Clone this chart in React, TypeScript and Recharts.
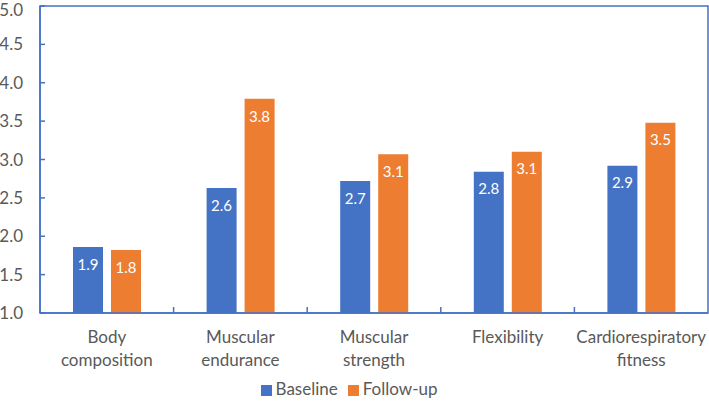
import { BarChart, Bar, XAxis, YAxis, Legend, LabelList, ReferenceArea } from "recharts";

const categories = [
  "Body composition",
  "Muscular endurance",
  "Muscular strength",
  "Flexibility",
  "Cardiorespiratory fitness",
];
const baseline = [1.86, 2.63, 2.72, 2.84, 2.92];
const followUp = [1.82, 3.79, 3.07, 3.1, 3.48];
const yTicks = [1, 1.5, 2, 2.5, 3, 3.5, 4, 4.5, 5];

const data = categories.map((name, i) => ({
  name,
  baseline: baseline[i],
  followUp: followUp[i],
}));

const FONT = "Lato, 'Open Sans', sans-serif";
const TEXT = "#595959";
const AXIS = "#4472C4";
const CHART_W = 709;
const PLOT_LEFT = 40;
const PLOT_RIGHT = 1;
const BAND = (CHART_W - PLOT_LEFT - PLOT_RIGHT) / categories.length;

// category label split in two lines, plus the small upward tick at the band edge
const CategoryTick = (props: any) => {
  const { x, y, payload, index } = props;
  const value: string = payload.value;
  const idx = value.indexOf(" ");
  const lines = idx > 0 ? [value.slice(0, idx), value.slice(idx + 1)] : [value];
  const edge = x + BAND / 2;
  return (
    <g>
      {index < categories.length - 1 && (
        <line x1={edge} x2={edge} y1={y - 2} y2={y - 8} stroke={AXIS} strokeWidth={1.5} />
      )}
      <text x={x} y={y} textAnchor="middle" fill={TEXT} fontSize={17} fontFamily={FONT}>
        {lines.map((l, i) => (
          <tspan key={i} x={x} dy={i === 0 ? 28 : 23}>
            {l}
          </tspan>
        ))}
      </text>
    </g>
  );
};

const App = () => {
  return (
    <div style={{ position: "absolute", left: 0, top: 0 }}>
      <BarChart
        width={CHART_W}
        height={410}
        data={data}
        margin={{ top: 6, right: PLOT_RIGHT, left: 0, bottom: 8 }}
        barSize={30}
        barGap={8}
      >
        <XAxis
          dataKey="name"
          interval={0}
          height={65}
          tickLine={false}
          tickSize={0}
          axisLine={{ stroke: AXIS, strokeWidth: 1.5 }}
          tick={<CategoryTick />}
        />
        <YAxis
          width={PLOT_LEFT}
          domain={[1, 5]}
          ticks={yTicks}
          allowDataOverflow
          tickFormatter={(v: number) => v.toFixed(1)}
          tick={{ fill: TEXT, fontSize: 17, fontFamily: FONT }}
          tickSize={-5}
          tickMargin={22}
          tickLine={{ stroke: AXIS, strokeWidth: 1.5 }}
          axisLine={{ stroke: AXIS, strokeWidth: 1.5 }}
        />
        <ReferenceArea y1={1} y2={5} fill="none" stroke={AXIS} strokeWidth={1.5} ifOverflow="visible" />
        <Legend
          verticalAlign="bottom"
          height={24}
          iconType="square"
          iconSize={11}
          wrapperStyle={{ fontFamily: FONT, fontSize: 17 }}
          formatter={(value: string) => <span style={{ color: TEXT }}>{value}</span>}
        />
        <Bar dataKey="baseline" name="Baseline" fill="#4472C4" isAnimationActive={false}>
          <LabelList
            dataKey="baseline"
            position="insideTop"
            offset={12}
            fill="#ffffff"
            fontSize={15}
            fontFamily={FONT}
            formatter={(v: any) => Number(v).toFixed(1)}
          />
        </Bar>
        <Bar dataKey="followUp" name="Follow-up" fill="#ED7D31" isAnimationActive={false}>
          <LabelList
            dataKey="followUp"
            position="insideTop"
            offset={12}
            fill="#ffffff"
            fontSize={15}
            fontFamily={FONT}
            formatter={(v: any) => Number(v).toFixed(1)}
          />
        </Bar>
      </BarChart>
    </div>
  );
};

export default App;
